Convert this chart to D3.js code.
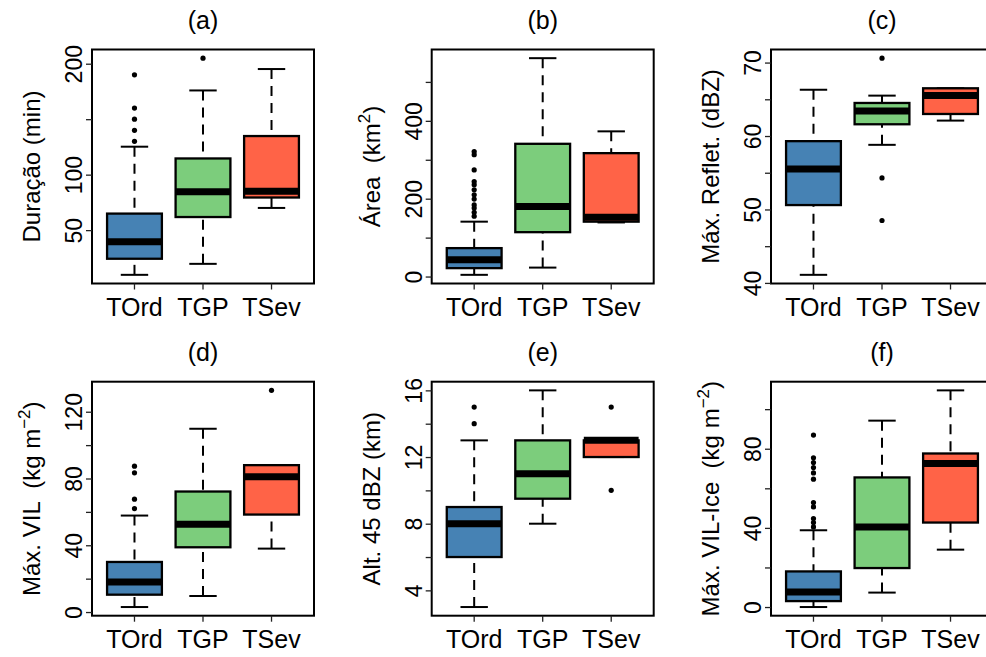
<!DOCTYPE html>
<html>
<head>
<meta charset="utf-8">
<script src="https://cdn.jsdelivr.net/npm/d3@7"></script>
<style>
    body { margin: 0; background: #fff; }
    svg text { font-family: "Liberation Sans", Arial, Helvetica, sans-serif; fill: #000; }
</style>
</head>
<body>
<div class="visContainer"></div>
<script>
const categories = ['TOrd', 'TGP', 'TSev'];
const titles = ['(a)', '(b)', '(c)', '(d)', '(e)', '(f)'];

// each box: [lower whisker, Q1, median, Q3, upper whisker]
const duracaoStats = [[9.7, 24.2, 39.5, 64.9, 125.2], [19.6, 61.8, 84.5, 114.6, 175.9], [70, 79.4, 85, 134.8, 195.2]];
const duracaoOut = [[130, 140, 150, 160, 190], [205], []];
const duracaoTicks = [50, 100, 150, 200];
const duracaoLabels = [50, 100, 200];

const areaStats = [[4.4, 21.6, 43, 73, 141], [23, 114, 180, 341, 561], [139, 141, 152.5, 317, 373]];
const areaOut = [[155, 165, 176, 184, 199, 210, 223, 236, 244, 274, 313, 321], [], []];
const areaTicks = [0, 100, 200, 300, 400, 500];
const areaLabels = [0, 200, 400];

const reflStats = [[41.1, 50.6, 55.5, 59.3, 66.3], [58.8, 61.6, 63.4, 64.5, 65.5], [62.1, 63, 65.5, 66.5, 66.5]];
const reflOut = [[], [70.6, 54.3, 48.5], []];
const reflTicks = [40, 45, 50, 55, 60, 65, 70];
const reflLabels = [40, 50, 60, 70];

const vilStats = [[3, 10.4, 18, 30, 57.8], [9.6, 38.8, 52.6, 72.2, 109.8], [38, 58.4, 81, 88, 88]];
const vilOut = [[62, 67.6, 83.4, 87.4], [], [132.8]];
const vilTicks = [0, 20, 40, 60, 80, 100, 120];
const vilLabels = [0, 40, 80, 120];

const alt45Stats = [[3, 6, 8, 9, 13], [8, 9.5, 11, 13, 16], [12, 12, 13, 13, 13]];
const alt45Out = [[14, 15], [], [10, 15]];
const alt45Ticks = [4, 6, 8, 10, 12, 14, 16];
const alt45Labels = [4, 8, 12, 16];

const vilIceStats = [[0, 3, 7.6, 18, 38.8], [7.3, 19.7, 40.5, 65.5, 94.2], [29, 42.7, 72.6, 77.6, 109.5]];
const vilIceOut = [[40.5, 42.7, 44.7, 50.6, 52.8, 64.6, 67.8, 70.5, 73, 75.4, 86.9], [], []];
const vilIceTicks = [0, 20, 40, 60, 80, 100];
const vilIceLabels = [0, 40, 80];

// parts starting with ^ are superscripts
const yLabels = [
    ['Duração (min)'],
    ['Área  (km', '^2', ')'],
    ['Máx. Reflet. (dBZ)'],
    ['Máx. VIL  (kg m', '^\u22122', ')'],
    ['Alt. 45 dBZ (km)'],
    ['Máx. VIL-Ice  (kg m', '^\u22122', ')']
];

const fills = ['#4682B4', '#7CCD7C', '#FF6347'];

const panels = [
    { stats: duracaoStats, out: duracaoOut, ticks: duracaoTicks, labels: duracaoLabels },
    { stats: areaStats, out: areaOut, ticks: areaTicks, labels: areaLabels },
    { stats: reflStats, out: reflOut, ticks: reflTicks, labels: reflLabels },
    { stats: vilStats, out: vilOut, ticks: vilTicks, labels: vilLabels },
    { stats: alt45Stats, out: alt45Out, ticks: alt45Ticks, labels: alt45Labels },
    { stats: vilIceStats, out: vilIceOut, ticks: vilIceTicks, labels: vilIceLabels }
];

const width = 986;
const height = 657;
const plotW = 222;
const plotH = 234;
const lefts = [92, 431.7, 771];
const tops = [49.5, 381.7];

const svg = d3.select('.visContainer')
              .append('svg')
              .attr('width', width)
              .attr('height', height);

panels.forEach((p, k) => {
    const g = svg.append('g')
                 .attr('transform', 'translate(' + lefts[k % 3] + ',' + tops[Math.floor(k / 3)] + ')');

    // R style range: data extent padded by 4%
    const all = p.stats.flat().concat(p.out.flat());
    const lo = d3.min(all);
    const hi = d3.max(all);
    const pad = (hi - lo) * 0.04;

    const yScale = d3.scaleLinear()
                     .domain([lo - pad, hi + pad])
                     .range([plotH, 0]);
    const xScale = d3.scaleBand()
                     .domain(categories)
                     .range([0, plotW])
                     .paddingInner(0.2)
                     .paddingOuter(0.22);
    const bw = xScale.bandwidth();

    const boxes = g.selectAll('g.box')
                   .data(p.stats.map((s, i) => ({ cat: categories[i], s: s, i: i })))
                   .enter()
                   .append('g')
                   .attr('class', 'box');

    // whiskers, drawn from the ends towards the box
    boxes.selectAll('line.whisker')
         .data(d => [[d.s[0], d.s[1], d.cat], [d.s[4], d.s[3], d.cat]])
         .enter()
         .append('line')
         .attr('x1', d => xScale(d[2]) + bw / 2)
         .attr('x2', d => xScale(d[2]) + bw / 2)
         .attr('y1', d => yScale(d[0]))
         .attr('y2', d => yScale(d[1]))
         .attr('stroke', '#000')
         .attr('stroke-width', 2)
         .attr('stroke-dasharray', '10,7');

    boxes.selectAll('line.staple')
         .data(d => [[d.s[0], d.cat], [d.s[4], d.cat]])
         .enter()
         .append('line')
         .attr('x1', d => xScale(d[1]) + bw / 4)
         .attr('x2', d => xScale(d[1]) + bw * 3 / 4)
         .attr('y1', d => yScale(d[0]))
         .attr('y2', d => yScale(d[0]))
         .attr('stroke', '#000')
         .attr('stroke-width', 2);

    boxes.append('rect')
         .attr('x', d => xScale(d.cat))
         .attr('y', d => yScale(d.s[3]))
         .attr('width', bw)
         .attr('height', d => yScale(d.s[1]) - yScale(d.s[3]))
         .attr('fill', d => fills[d.i])
         .attr('stroke', '#000')
         .attr('stroke-width', 2.3);

    boxes.append('line')
         .attr('x1', d => xScale(d.cat))
         .attr('x2', d => xScale(d.cat) + bw)
         .attr('y1', d => yScale(d.s[2]))
         .attr('y2', d => yScale(d.s[2]))
         .attr('stroke', '#000')
         .attr('stroke-width', 7);

    boxes.selectAll('circle')
         .data(d => p.out[d.i].map(v => [v, d.cat]))
         .enter()
         .append('circle')
         .attr('cx', d => xScale(d[1]) + bw / 2)
         .attr('cy', d => yScale(d[0]))
         .attr('r', 2.6)
         .attr('fill', '#000');

    g.append('rect')
     .attr('width', plotW)
     .attr('height', plotH)
     .attr('fill', 'none')
     .attr('stroke', '#000')
     .attr('stroke-width', 2);

    const yAxis = d3.axisLeft(yScale)
                    .tickValues(p.ticks)
                    .tickSize(6)
                    .tickFormat(d => p.labels.includes(d) ? d : '');
    const ya = g.append('g').call(yAxis);
    ya.select('.domain').remove();
    ya.selectAll('.tick line').attr('stroke', '#222').attr('stroke-width', 1.3);
    ya.selectAll('.tick text')
      .attr('transform', 'rotate(-90)')
      .attr('x', 0)
      .attr('y', -10)
      .attr('dy', 0)
      .attr('text-anchor', 'middle')
      .style('font-size', '23px');

    const xAxis = d3.axisBottom(xScale).tickSize(6);
    const xa = g.append('g')
                .attr('transform', 'translate(0,' + plotH + ')')
                .call(xAxis);
    xa.select('.domain').remove();
    xa.selectAll('.tick line').attr('stroke', '#222').attr('stroke-width', 1.3);
    xa.selectAll('.tick text')
      .attr('y', 32)
      .attr('dy', 0)
      .style('font-size', '25px');

    g.append('text')
     .attr('x', plotW / 2)
     .attr('y', -21)
     .attr('text-anchor', 'middle')
     .style('font-size', '25px')
     .text(titles[k]);

    const lab = g.append('text')
                 .attr('transform', 'translate(-52,' + plotH / 2 + ') rotate(-90)')
                 .attr('text-anchor', 'middle')
                 .attr('xml:space', 'preserve')
                 .style('white-space', 'pre')
                 .style('font-size', '24px');
    let raised = false;
    yLabels[k].forEach(part => {
        const sup = part[0] === '^';
        const t = lab.append('tspan').text(sup ? part.slice(1) : part);
        if (sup) {
            t.attr('dy', -10).style('font-size', '17px');
            raised = true;
        } else if (raised) {
            t.attr('dy', 10);
            raised = false;
        }
    });
});
</script>
</body>
</html>
